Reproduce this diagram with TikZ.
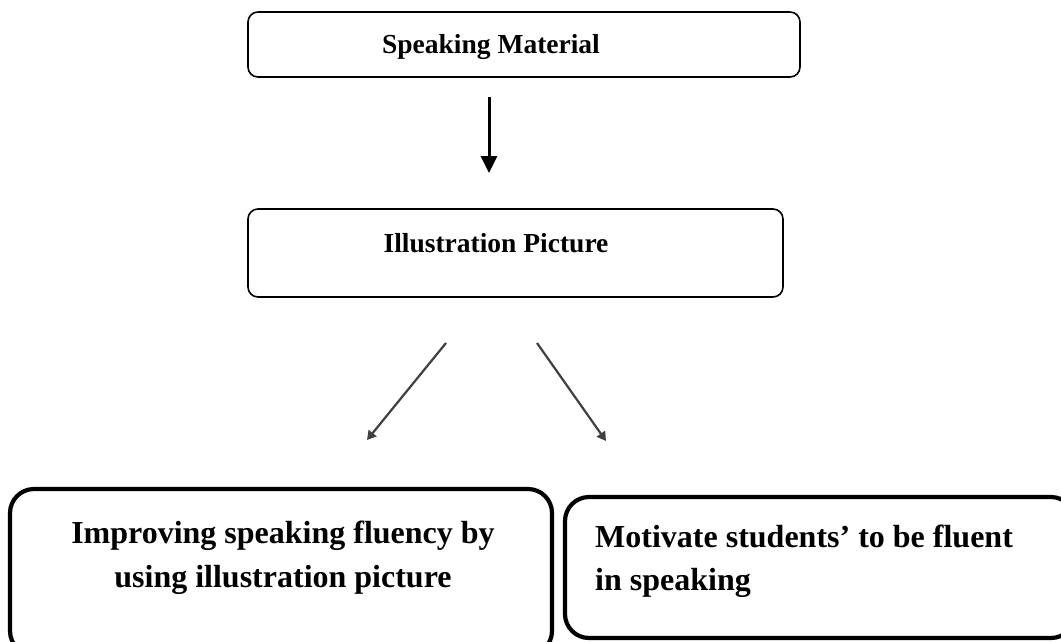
\documentclass[tikz,border=0pt]{standalone}
\usepackage{fontspec}
\setmainfont{Liberation Serif}
\usetikzlibrary{arrows.meta}
\begin{document}
\begin{tikzpicture}[x=1pt,y=-1pt,
  thinbox/.style={draw=black, line width=1.6pt, rounded corners=10pt, inner sep=0pt, outer sep=0pt},
  thickbox/.style={draw=black, line width=4.2pt, rounded corners=24pt, inner sep=0pt, outer sep=0pt},
  toptext/.style={anchor=base, inner sep=0pt, font=\bfseries\fontsize{27.5}{33}\selectfont},
  bottext/.style={anchor=base, inner sep=0pt, font=\bfseries\fontsize{32}{44}\selectfont},
  mainarrow/.style={line width=3pt, -{Triangle[width=16pt,length=17pt]}},
  sidearrow/.style={draw=black!75, line width=2.2pt, -{Triangle[width=10pt,length=9pt]}}]
\clip (0,0) rectangle (1061,641);
\useasboundingbox (0,0) rectangle (1061,641);
\fill[white] (0,0) rectangle (1061,641);
% boxes
\node[thinbox, minimum width=552pt, minimum height=65pt] (b1) at (524,44.5) {};
\node[thinbox, minimum width=535pt, minimum height=88pt] (b2) at (515.5,253) {};
\node[thickbox, minimum width=542pt, minimum height=166pt] (b3) at (281,572) {};
\node[thickbox, minimum width=510pt, minimum height=141pt] (b4) at (820,567.5) {};
% texts
\node[toptext] (t1) at (491,53) {Speaking Material};
\node[toptext] (t2) at (496,252) {Illustration Picture};
\node[bottext] (t3a) at (283,543) {Improving speaking fluency by};
\node[bottext] (t3b) at (283,587) {using illustration picture};
\node[bottext, anchor=base west] (t4a) at (595,547) {Motivate students’ to be fluent};
\node[bottext, anchor=base west] (t4b) at (595,590) {in speaking};
% arrows
\coordinate (a1s) at (489,97);
\coordinate (a1e) at (489,173);
\draw[mainarrow] (a1s) -- (a1e);
\coordinate (a2s) at (446,343);
\coordinate (a2e) at (367,440);
\draw[sidearrow] (a2s) -- (a2e);
\coordinate (a3s) at (537,343);
\coordinate (a3e) at (606,441);
\draw[sidearrow] (a3s) -- (a3e);
\end{tikzpicture}
\end{document}
